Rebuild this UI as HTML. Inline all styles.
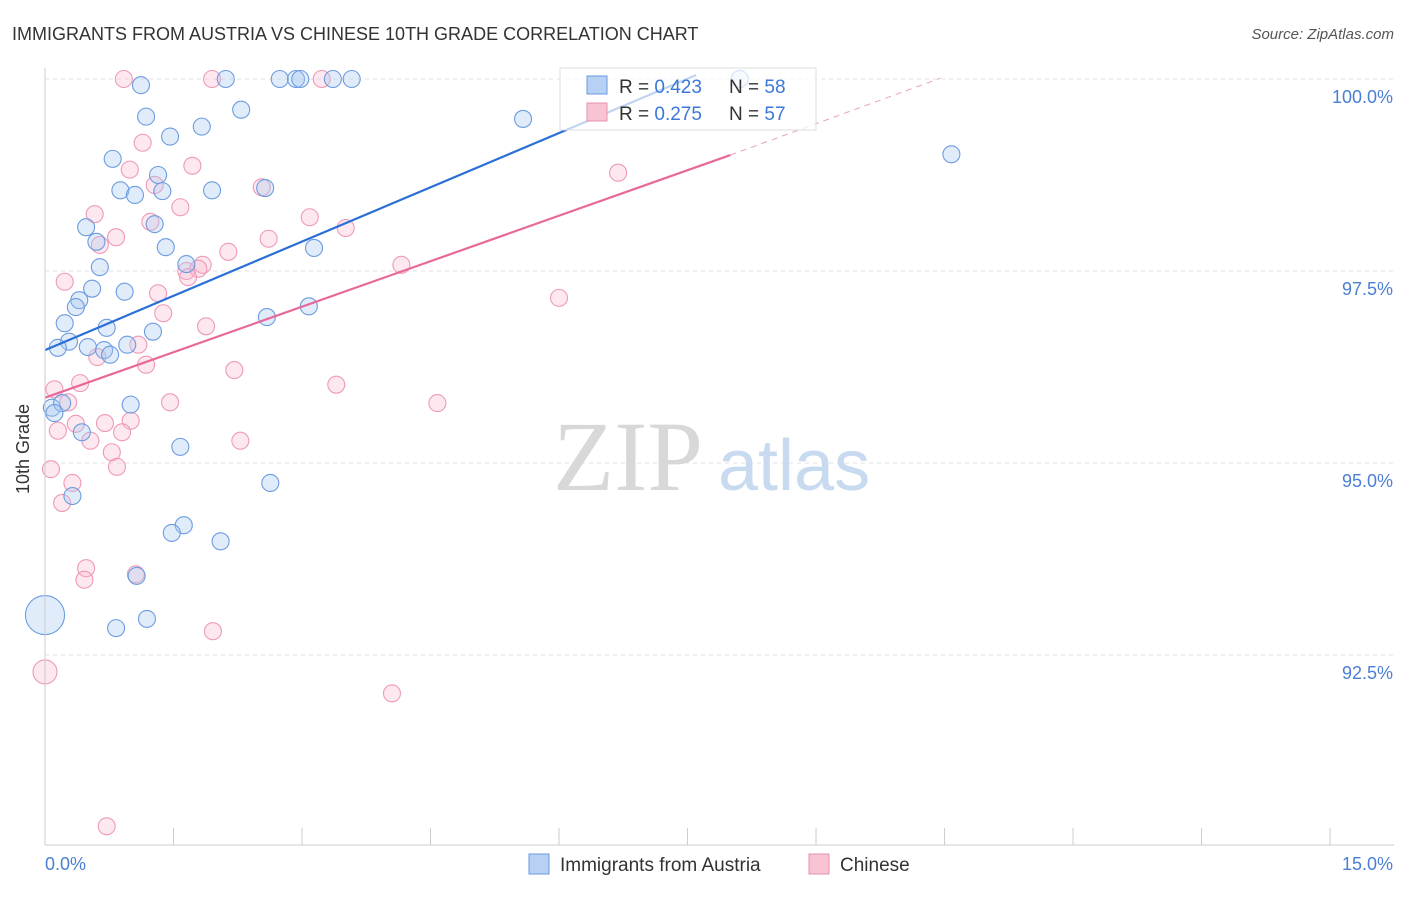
<!DOCTYPE html>
<html><head><meta charset="utf-8">
<style>
body{margin:0;background:#fff;font-family:"Liberation Sans",sans-serif;}
</style></head>
<body>
<svg id="chart" width="1406" height="892" xmlns="http://www.w3.org/2000/svg" font-family="Liberation Sans, sans-serif">
<text x="12" y="40" font-size="18" fill="#333">IMMIGRANTS FROM AUSTRIA VS CHINESE 10TH GRADE CORRELATION CHART</text>
<text x="1394" y="39" font-size="15" fill="#555" text-anchor="end" font-style="italic">Source: ZipAtlas.com</text>
<g id="grid"></g>
<g>
<text x="553" y="490" font-size="100" fill="#d8d8d8" style="font-family:'Liberation Serif',serif">ZIP</text>
<text x="718" y="490" font-size="72" fill="#c8daf0">atlas</text>
</g>
<g id="pts"></g>
<g id="lines"></g>
<text x="36" y="456" font-size="18" fill="#333" text-anchor="middle" transform="rotate(-90 29 456)">10th Grade</text>
<g>
<rect x="560" y="68" width="256" height="62" fill="rgba(255,255,255,0.7)" stroke="#ddd"/>
<rect x="587" y="76" width="20" height="18" fill="#b8d0f4" stroke="#6a9ae0"/>
<rect x="587" y="103" width="20" height="18" fill="#f8c4d4" stroke="#e890ac"/>
<text x="619" y="93" font-size="19" fill="#333">R = <tspan fill="#3b78d8">0.423</tspan></text>
<text x="729" y="93" font-size="19" fill="#333">N = <tspan fill="#3b78d8">58</tspan></text>
<text x="619" y="120" font-size="19" fill="#333">R = <tspan fill="#3b78d8">0.275</tspan></text>
<text x="729" y="120" font-size="19" fill="#333">N = <tspan fill="#3b78d8">57</tspan></text>
</g>
<g>
<rect x="529" y="854" width="20" height="20" fill="#b8d0f4" stroke="#6a9ae0"/>
<text x="560" y="871" font-size="19" fill="#333">Immigrants from Austria</text>
<rect x="809" y="854" width="20" height="20" fill="#f8c4d4" stroke="#e890ac"/>
<text x="840" y="871" font-size="19" fill="#333">Chinese</text>
</g>
</svg>
<script>
const yTicks=[100,97.5,95,92.5];
const yTickLabels=["100.0%","97.5%","95.0%","92.5%"];
const xTicks=[0,1.5,3,4.5,6,7.5,9,10.5,12,13.5,15];
const xEndLabels=["0.0%","15.0%"];
const blueX=[1.12,2.11,2.74,2.93,2.98,3.36,3.58,8.11,1.18,1.46,1.83,2.29,5.58,10.58,0.79,1.32,0.88,1.05,1.37,1.95,2.57,0.48,1.28,0.60,1.41,3.14,0.64,1.65,0.55,0.93,0.40,0.36,3.08,2.59,0.23,0.72,1.26,0.28,0.15,0.50,0.69,0.76,0.96,0.08,0.20,1.00,0.11,0.43,1.58,2.63,0.32,1.62,1.48,2.05,1.07,0,0.83,1.19];
const blueY=[99.92,100,100,100,100,100,100,100,99.51,99.25,99.38,99.60,99.48,99.02,98.96,98.75,98.55,98.49,98.54,98.55,98.58,98.07,98.11,97.88,97.81,97.80,97.55,97.59,97.27,97.23,97.12,97.03,97.04,96.90,96.82,96.76,96.71,96.58,96.50,96.51,96.47,96.41,96.54,95.72,95.78,95.76,95.65,95.40,95.21,94.74,94.57,94.19,94.09,93.98,93.53,93.02,92.85,92.97];
const blueSize=[1,1,1,1,1,1,1,1,1,1,1,1,1,1,1,1,1,1,1,1,1,1,1,1,1,1,1,1,1,1,1,1,1,1,1,1,1,1,1,1,1,1,1,1,1,1,1,1,1,1,1,1,1,1,1,2.3,1,1];
const pinkX=[0.92,1.95,3.23,1.14,1.72,0.99,1.28,2.53,1.58,0.58,3.09,1.23,3.51,0.83,0.64,2.61,2.14,1.84,1.65,1.79,1.67,4.16,0.23,1.32,6.00,1.38,1.88,6.69,1.09,0.61,1.18,2.21,0.41,0.11,3.40,0.27,1.46,4.58,0.36,0.70,1.00,0.15,0.90,0.53,2.28,0.78,0.07,0.84,0.32,0.20,0.48,0.46,1.06,1.96,0,4.05,0.72];
const pinkY=[100,100,100,99.17,98.87,98.82,98.62,98.59,98.33,98.24,98.20,98.14,98.06,97.94,97.84,97.92,97.75,97.58,97.50,97.53,97.42,97.58,97.36,97.21,97.15,96.95,96.78,98.78,96.54,96.38,96.28,96.21,96.04,95.96,96.02,95.79,95.79,95.78,95.51,95.52,95.55,95.42,95.40,95.29,95.29,95.14,94.92,94.95,94.74,94.48,93.63,93.48,93.55,92.81,92.28,92.0,90.27];
const blueLine=[[0,96.47],[7.6,100.05]];
const pinkLine=[[0,95.85],[8.0,99.01]];
const pinkDash=[[8.0,99.01],[10.45,100.01]];
const xs=v=>45+v*85.67;
const ys=v=>79+(100-v)*76.8;
const NS="http://www.w3.org/2000/svg";
const svg=document.getElementById('chart');
const grid=document.getElementById('grid');
function mk(t,a,p){const e=document.createElementNS(NS,t);for(const k in a)e.setAttribute(k,a[k]);(p||svg).appendChild(e);return e;}
yTicks.forEach((t,i)=>{
 const l=mk('line',{x1:45,x2:1394,y1:ys(t),y2:ys(t),stroke:'#e2e2e2','stroke-dasharray':'4,4'},grid);
 
 
 const tx=mk('text',{x:1393,y:ys(t)+24,'font-size':18,fill:'#4a7fd4','text-anchor':'end'});
 tx.textContent=yTickLabels[i];
 
 
});
const ax=mk('line',{x1:45,x2:1394,y1:845,y2:845,stroke:'#ccc'});


const yax=mk('line',{x1:45,x2:45,y1:68,y2:845,stroke:'#ccc'});


xTicks.forEach(t=>{
 const l=mk('line',{x1:xs(t),x2:xs(t),y1:828,y2:845,stroke:'#ccc'});
 
 
});
const xl0=mk('text',{x:45,y:870,'font-size':18,fill:'#4a7fd4'});xl0.textContent=xEndLabels[0];


const xl1=mk('text',{x:1393,y:870,'font-size':18,fill:'#4a7fd4','text-anchor':'end'});xl1.textContent=xEndLabels[1];


const pts=document.getElementById('pts');
pinkX.forEach((x,i)=>{
 const r=pinkY[i]<92.5&&x===0?12:8.5;
 const c=mk('circle',{cx:xs(x),cy:ys(pinkY[i]),r:r,fill:'rgba(248,180,202,0.3)',stroke:'#ee9ab6','stroke-width':1.1},pts);
 
 
});
blueX.forEach((x,i)=>{
 const c=mk('circle',{cx:xs(x),cy:ys(blueY[i]),r:8.5*blueSize[i],fill:'rgba(170,200,242,0.35)',stroke:'#6c9ce0','stroke-width':1.1},pts);
 
 
});
const lines=document.getElementById('lines');
const bl=mk('line',{x1:xs(blueLine[0][0]),y1:ys(blueLine[0][1]),x2:xs(blueLine[1][0]),y2:ys(blueLine[1][1]),stroke:'#2a6fd6','stroke-width':2.2},lines);


const pl=mk('line',{x1:xs(pinkLine[0][0]),y1:ys(pinkLine[0][1]),x2:xs(pinkLine[1][0]),y2:ys(pinkLine[1][1]),stroke:'#e8689a','stroke-width':2.2},lines);


const pd=mk('line',{x1:xs(pinkDash[0][0]),y1:ys(pinkDash[0][1]),x2:xs(pinkDash[1][0]),y2:ys(pinkDash[1][1]),stroke:'#eaa0bc','stroke-width':1,'stroke-dasharray':'6,5'},lines);


</script>
</body></html>
